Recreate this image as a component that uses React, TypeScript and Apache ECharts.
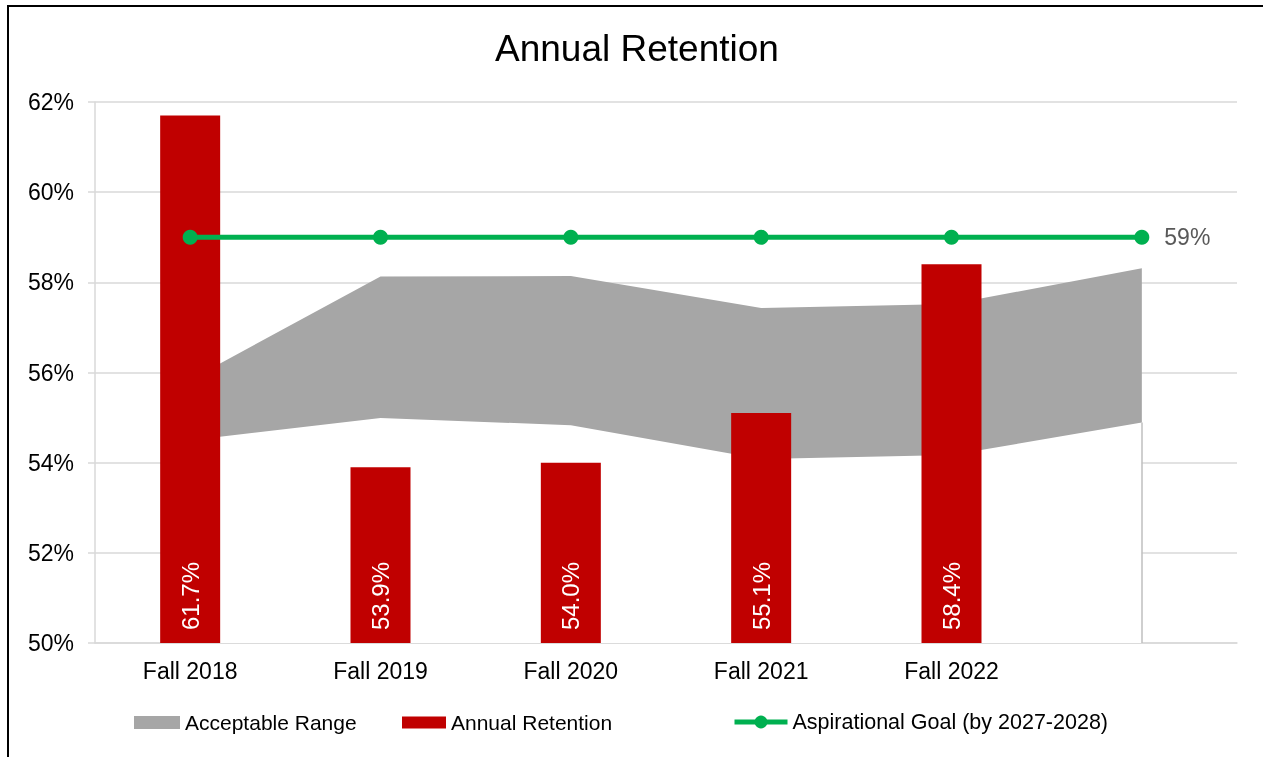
import React, { useEffect, useRef } from "react";
import * as echarts from "echarts";

const categories = ["Fall 2018", "Fall 2019", "Fall 2020", "Fall 2021", "Fall 2022", ""];
const rangeLower = [54.5, 54.99, 54.83, 54.08, 54.17, 54.89];
const rangeUpper = [55.84, 58.13, 58.14, 57.43, 57.52, 58.31];
const retention = [61.7, 53.9, 54.0, 55.1, 58.4];
const goal = [59, 59, 59, 59, 59, 59];
const yTicks = { min: 50, max: 62, interval: 2 };

const FONT = "'Liberation Sans', Arial, sans-serif";

export default function App() {
  const ref = useRef<HTMLDivElement>(null);
  useEffect(() => {
    if (!ref.current) return;
    const chart = echarts.init(ref.current, undefined, { renderer: "svg" });
    const rangeDiff = rangeUpper.map((u, i) => +(u - rangeLower[i]).toFixed(3));
    const legendText = { fontSize: 21, color: "#000", fontFamily: FONT };
    chart.setOption({
      animation: false,
      textStyle: { fontFamily: FONT },
      title: {
        text: "Annual Retention",
        left: 490,
        top: 25,
        textStyle: { fontSize: 37, fontWeight: "normal", color: "#000", fontFamily: FONT },
      },
      grid: { left: 95, top: 102, width: 1142, height: 541, outerBoundsMode: "none" },
      legend: [
        {
          left: 134, top: 712, padding: 0, itemWidth: 46, itemHeight: 13, itemGap: 0,
          data: [{ name: "Acceptable Range", icon: "rect" }],
          textStyle: legendText, selectedMode: false,
        },
        {
          left: 402, top: 712, padding: 0, itemWidth: 44, itemHeight: 12, itemGap: 0,
          data: [{ name: "Annual Retention", icon: "rect" }],
          textStyle: legendText, selectedMode: false,
        },
        {
          left: 732, top: 711, padding: 0, itemWidth: 53, itemHeight: 16, itemGap: 0,
          data: [{ name: "Aspirational Goal (by 2027-2028)" }],
          lineStyle: { width: 5 },
          textStyle: { ...legendText, fontSize: 21.5 }, selectedMode: false,
        },
      ],
      xAxis: {
        type: "category",
        data: categories,
        boundaryGap: true,
        axisLine: { show: true, lineStyle: { color: "#d9d9d9", width: 1.5 } },
        axisTick: { show: false },
        axisLabel: { color: "#000", fontSize: 23, margin: 16, fontFamily: FONT },
        splitLine: { show: false },
      },
      yAxis: {
        type: "value",
        min: yTicks.min,
        max: yTicks.max,
        interval: yTicks.interval,
        axisLine: { show: true, lineStyle: { color: "#d9d9d9", width: 1.5 } },
        axisTick: { show: true, length: 7, lineStyle: { color: "#d9d9d9", width: 1.5 } },
        axisLabel: { color: "#000", fontSize: 23, margin: 21, formatter: "{value}%", fontFamily: FONT },
        splitLine: { show: true, lineStyle: { color: "#d9d9d9", width: 1.5 } },
      },
      series: [
        {
          name: "lower",
          type: "line",
          stack: "range",
          z: 1,
          data: rangeLower,
          symbol: "none",
          lineStyle: { width: 0 },
          areaStyle: { color: "#ffffff", opacity: 1 },
          itemStyle: { color: "#ffffff" },
          silent: true,
          markLine: {
            silent: true,
            symbol: ["none", "none"],
            label: { show: false },
            lineStyle: { color: "#bfbfbf", width: 1.5, type: "solid" },
            data: [[{ coord: [5, yTicks.min] }, { coord: [5, rangeLower[5]] }]],
          },
        },
        {
          name: "Acceptable Range",
          type: "line",
          stack: "range",
          z: 1,
          data: rangeDiff,
          symbol: "none",
          lineStyle: { width: 0 },
          areaStyle: { color: "#A6A6A6", opacity: 1 },
          itemStyle: { color: "#A6A6A6" },
          color: "#A6A6A6",
        },
        {
          name: "Annual Retention",
          type: "bar",
          z: 5,
          data: retention,
          barWidth: 60,
          itemStyle: { color: "#C00000" },
          label: {
            show: true,
            position: "insideBottom",
            rotate: 90,
            align: "left",
            verticalAlign: "middle",
            distance: 13,
            color: "#fff",
            fontSize: 24,
            fontFamily: FONT,
            formatter: (p: any) => Number(p.value).toFixed(1) + "%",
          },
        },
        {
          name: "Aspirational Goal (by 2027-2028)",
          type: "line",
          z: 6,
          data: goal,
          symbol: "circle",
          symbolSize: 15,
          lineStyle: { color: "#00B050", width: 5 },
          itemStyle: { color: "#00B050" },
          color: "#00B050",
          label: {
            show: true,
            position: "right",
            distance: 15,
            color: "#595959",
            fontSize: 23,
            fontFamily: FONT,
            formatter: (p: any) => (p.dataIndex === goal.length - 1 ? p.value + "%" : ""),
          },
        },
      ],
    });
    return () => chart.dispose();
  }, []);
  return (
    <>
      <div ref={ref} style={{ position: "fixed", left: 0, top: 0, width: 1263, height: 757 }} />
      <div
        style={{
          position: "fixed",
          left: 7,
          top: 5,
          width: 1300,
          height: 800,
          borderLeft: "2px solid #000",
          borderTop: "2px solid #000",
          pointerEvents: "none",
        }}
      />
    </>
  );
}
